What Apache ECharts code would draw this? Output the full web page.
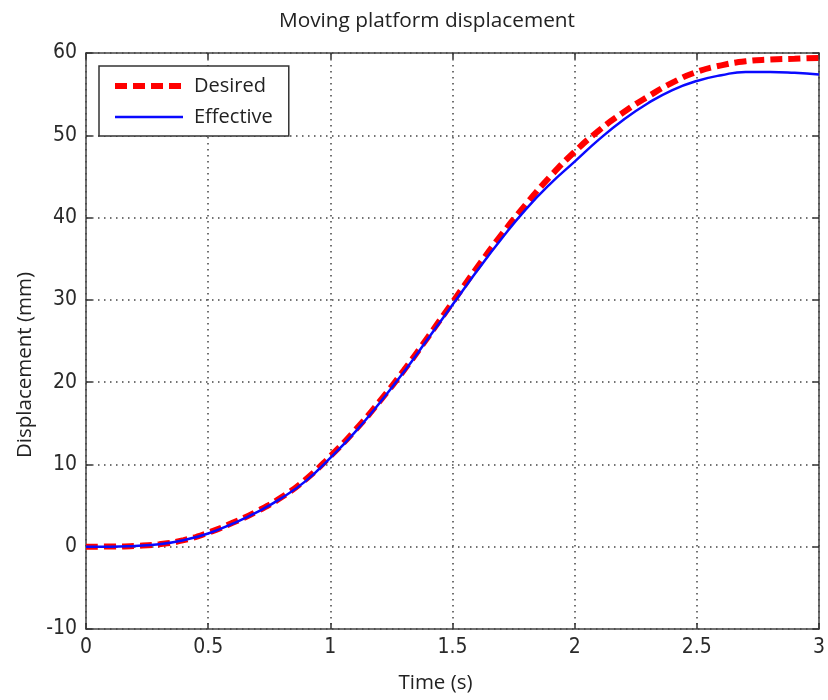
<!DOCTYPE html>
<html>
<head>
<meta charset="utf-8">
<script src="https://cdn.jsdelivr.net/npm/echarts@6/dist/echarts.min.js"></script>
<style>html,body{margin:0;padding:0;background:#fff;}#c{width:828px;height:700px;}</style>
</head>
<body>
<div id="c"></div>
<script>
const time = [0,0.1,0.2,0.3,0.4,0.5,0.6,0.7,0.8,0.9,1.0,1.1,1.2,1.3,1.4,1.5,1.6,1.7,1.8,1.9,2.0,2.1,2.2,2.3,2.4,2.5,2.6,2.7,2.8,2.9,3.0];
const desired = [0,0.02,0.1,0.3,0.8,1.7,2.9,4.3,6.0,8.2,11.0,14.1,17.6,21.4,25.5,29.7,33.9,37.9,41.6,45.0,48.0,50.6,52.8,54.7,56.4,57.7,58.5,59.0,59.2,59.3,59.4];
const effective = [0,0,0.1,0.3,0.8,1.6,2.8,4.2,5.9,8.0,10.8,13.9,17.4,21.2,25.3,29.4,33.5,37.4,41.0,44.1,46.8,49.5,51.9,53.9,55.5,56.6,57.3,57.7,57.7,57.6,57.4];
const seriesNames = ['Desired','Effective'];
const titleText = 'Moving platform displacement';
const xName = 'Time (s)';
const yName = 'Displacement (mm)';

const chart = echarts.init(document.getElementById('c'), null, {renderer:'canvas'});
const tickFont = {fontFamily:"'DejaVu Sans Condensed','Liberation Sans Narrow','Liberation Sans',sans-serif", fontSize:21, color:'#2a2a2a'};
const textFont = "'Open Sans','Noto Sans',sans-serif";
const gridLine = {show:true, lineStyle:{color:'#444', width:1.5, type:[1.5,4.5]}};
const axisLineStyle = {show:true, onZero:false, lineStyle:{color:'#444', width:1.5}};
const tickIn = {show:true, inside:true, length:6, lineStyle:{color:'#333', width:1.5}};
const redStyle = {color:'#ff0000', width:6, type:[12,6]};
const blueStyle = {color:'#0a0aff', width:2.5, type:'solid'};

chart.setOption({
  animation:false,
  backgroundColor:'#fff',
  title:{text:titleText, left:422, top:6, textAlign:'center',
    textStyle:{fontFamily:textFont, fontSize:20.8, fontWeight:'normal', color:'#222'}},
  grid:{left:86, right:7, top:53, bottom:71, containLabel:false},
  legend:{orient:'vertical', left:99, top:66, itemWidth:68, itemHeight:20, itemGap:11,
    padding:[10,16,9,13], backgroundColor:'#fff', borderColor:'#333', borderWidth:1.5,
    itemStyle:{color:'rgba(0,0,0,0)', borderWidth:0, opacity:0},
    textStyle:{fontFamily:textFont, fontSize:20, color:'#222', padding:[0,0,0,6]},
    data:[{name:seriesNames[0], lineStyle:redStyle}, {name:seriesNames[1], lineStyle:blueStyle}]},
  xAxis:[
    {type:'value', min:0, max:3, interval:0.5, position:'bottom',
     name:xName, nameLocation:'middle', nameGap:44,
     nameTextStyle:{fontFamily:textFont, fontSize:20.5, color:'#222', padding:[0,34,0,0]},
     axisLine:axisLineStyle, axisTick:tickIn, splitLine:gridLine,
     axisLabel:Object.assign({margin:8}, tickFont)},
    {type:'value', min:0, max:3, interval:0.5, position:'top',
     axisLine:axisLineStyle, axisTick:tickIn, splitLine:{show:false}, axisLabel:{show:false}}
  ],
  yAxis:[
    {type:'value', min:-10, max:60, interval:10, position:'left',
     name:yName, nameLocation:'middle', nameGap:50,
     nameTextStyle:{fontFamily:textFont, fontSize:20.5, color:'#222', padding:[0,48,0,0]},
     axisLine:axisLineStyle, axisTick:tickIn, splitLine:gridLine,
     axisLabel:Object.assign({margin:9}, tickFont)},
    {type:'value', min:-10, max:60, interval:10, position:'right',
     axisLine:axisLineStyle, axisTick:tickIn, splitLine:{show:false}, axisLabel:{show:false}}
  ],
  series:[
    {name:seriesNames[0], type:'line', symbol:'none', smooth:true,
     data:time.map((t,i)=>[t,desired[i]]),
     lineStyle:redStyle, itemStyle:{color:'#ff0000'}, z:2},
    {name:seriesNames[1], type:'line', symbol:'none', smooth:true,
     data:time.map((t,i)=>[t,effective[i]]),
     lineStyle:blueStyle, itemStyle:{color:'#0a0aff'}, z:3}
  ]
});
</script>
</body>
</html>
